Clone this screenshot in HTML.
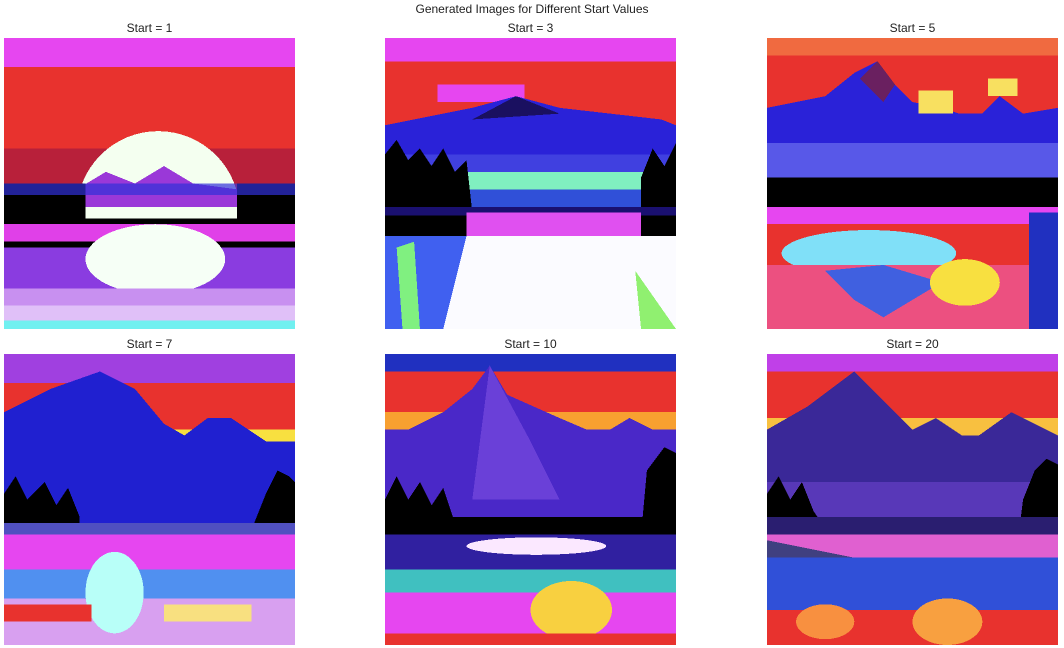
<!DOCTYPE html>
<html>
<head>
<meta charset="utf-8">
<style>
  html,body{margin:0;padding:0;background:#fff;}
  body{width:1064px;height:648px;position:relative;overflow:hidden;font-family:"Liberation Sans","DejaVu Sans",sans-serif;}
  .sup{position:absolute;left:0;width:1064px;top:2px;text-align:center;font-size:12px;color:#222;}
  .title{position:absolute;width:291px;text-align:center;font-size:12px;color:#222;}
  svg.img{position:absolute;width:291px;height:291px;shape-rendering:crispEdges;}
</style>
</head>
<body>
<div class="sup">Generated Images for Different Start Values</div>
<div id="root"></div>
<script>
const startValues = [1, 3, 5, 7, 10, 20];
const panelLefts = [4, 385, 767];
const panelTops = [38, 354];
const bgColors = ['#e8322e', '#e8322e', '#2a22d8', '#2020d0', '#4a28c8', '#3a2898'];

const NS = 'http://www.w3.org/2000/svg';
const scenes = [
`<rect x="0" y="0" width="100" height="10" fill="#e646f0"/>
<rect x="0" y="10" width="100" height="30" fill="#e8322e"/>
<rect x="0" y="38" width="100" height="12" fill="#b8203a"/>
<circle cx="53" cy="60" r="28" fill="#f4fff0"/>
<polygon points="25,52 35,46 45,50 55,44 65,50 80,52 80,58 25,58" fill="#9a38d8"/>
<rect x="0" y="50" width="28" height="22" fill="#000"/>
<rect x="80" y="50" width="20" height="22" fill="#000"/>
<rect x="0" y="50" width="100" height="4" fill="#3030d8" opacity="0.7"/>
<rect x="0" y="62" width="100" height="10" fill="#000"/>
<rect x="0" y="64" width="100" height="6" fill="#e040e8"/>
<rect x="0" y="72" width="100" height="16" fill="#8a3ce0"/>
<ellipse cx="52" cy="76" rx="24" ry="12" fill="#f6fff6"/>
<rect x="0" y="86" width="100" height="6" fill="#c890f0"/>
<rect x="0" y="92" width="100" height="5" fill="#e0c0f8"/>
<rect x="0" y="97" width="100" height="3" fill="#70f0f0"/>`,
`<rect x="0" y="0" width="100" height="12" fill="#e646f0"/>
<rect x="0" y="8" width="100" height="22" fill="#e8322e"/>
<rect x="18" y="16" width="30" height="6" fill="#e646f0"/>
<polygon points="0,30 30,24 45,20 60,24 95,28 100,30 100,48 0,48" fill="#2a22d8"/>
<polygon points="30,28 45,20 60,26" fill="#1a1060"/>
<rect x="0" y="40" width="100" height="8" fill="#4040e0"/>
<rect x="0" y="46" width="100" height="10" fill="#80f0c0"/>
<rect x="0" y="52" width="100" height="8" fill="#3050d8"/>
<polygon points="0,40 4,35 8,42 12,38 16,44 20,38 24,46 28,42 30,60 30,70 0,70" fill="#000"/>
<polygon points="88,48 92,38 96,44 100,36 100,72 88,72" fill="#000"/>
<rect x="0" y="58" width="100" height="3" fill="#1a1070"/>
<rect x="28" y="60" width="60" height="10" fill="#e050f0"/>
<rect x="0" y="68" width="100" height="32" fill="#fbfbff"/>
<polygon points="0,68 28,68 20,100 0,100" fill="#4060f0"/>
<polygon points="4,72 10,70 12,100 6,100" fill="#80f080"/>
<polygon points="86,80 100,100 88,100" fill="#90f070"/>`,
`<rect x="0" y="0" width="100" height="26" fill="#e8322e"/>
<rect x="0" y="0" width="100" height="6" fill="#f06a40"/>
<polygon points="0,24 20,20 30,12 38,8 44,16 50,22 60,24 72,28 80,20 88,26 100,24 100,50 0,50" fill="#2a22d8"/>
<polygon points="38,8 44,16 40,22 32,14" fill="#6a2060"/>
<rect x="52" y="18" width="12" height="8" fill="#f8e060"/>
<rect x="76" y="14" width="10" height="6" fill="#f8e060"/>
<rect x="0" y="36" width="100" height="14" fill="#5858e8"/>
<rect x="0" y="48" width="100" height="12" fill="#000"/>
<rect x="0" y="58" width="100" height="6" fill="#e646f0"/>
<rect x="0" y="64" width="100" height="16" fill="#e8322e"/>
<ellipse cx="35" cy="74" rx="30" ry="8" fill="#80e0f8"/>
<rect x="0" y="78" width="100" height="22" fill="#ec5080"/>
<polygon points="20,80 30,90 40,96 50,90 60,84 40,78" fill="#4060e0"/>
<ellipse cx="68" cy="84" rx="12" ry="8" fill="#f8e040"/>
<rect x="90" y="60" width="10" height="40" fill="#2030c0"/>`,
`<rect x="0" y="0" width="100" height="12" fill="#a040e0"/>
<rect x="0" y="10" width="100" height="20" fill="#e8322e"/>
<rect x="0" y="26" width="100" height="4" fill="#f8e040"/>
<polygon points="0,20 16,12 33,6 45,12 55,24 62,28 70,22 78,22 90,30 100,30 100,60 0,60" fill="#2020d0"/>
<polygon points="0,48 4,42 8,50 14,44 18,52 22,46 26,56 26,72 0,72" fill="#000"/>
<polygon points="86,58 90,48 94,40 98,42 100,44 100,70 84,70" fill="#000"/>
<rect x="0" y="58" width="100" height="4" fill="#5050c0"/>
<rect x="0" y="62" width="100" height="12" fill="#e646f0"/>
<rect x="0" y="74" width="100" height="10" fill="#5090f0"/>
<rect x="0" y="84" width="100" height="16" fill="#d8a0f0"/>
<ellipse cx="38" cy="82" rx="10" ry="14" fill="#b8fff8"/>
<rect x="0" y="86" width="30" height="6" fill="#e8322e"/>
<rect x="55" y="86" width="30" height="6" fill="#f8e080"/>`,
`<rect x="0" y="0" width="100" height="8" fill="#2030c0"/>
<rect x="0" y="6" width="100" height="18" fill="#e8322e"/>
<rect x="0" y="20" width="100" height="6" fill="#f8a030"/>
<polygon points="0,30 20,20 30,12 36,4 42,14 60,22 74,28 84,22 100,30 100,58 0,58" fill="#4a28c8"/>
<polygon points="36,4 50,30 60,50 30,50" fill="#6a40d8"/>
<polygon points="0,50 4,42 8,50 12,44 16,52 20,46 24,58 0,60" fill="#000"/>
<polygon points="90,40 96,32 100,34 100,62 88,62" fill="#000"/>
<rect x="0" y="56" width="100" height="8" fill="#000"/>
<rect x="0" y="62" width="100" height="12" fill="#3020a0"/>
<ellipse cx="52" cy="66" rx="24" ry="3" fill="#fbe8ff"/>
<rect x="0" y="74" width="100" height="8" fill="#40c0c0"/>
<rect x="0" y="82" width="100" height="18" fill="#e646f0"/>
<ellipse cx="64" cy="88" rx="14" ry="10" fill="#f8d040"/>
<rect x="0" y="96" width="100" height="4" fill="#e8322e"/>`,
`<rect x="0" y="0" width="100" height="8" fill="#c040e8"/>
<rect x="0" y="6" width="100" height="22" fill="#e8322e"/>
<rect x="0" y="22" width="100" height="6" fill="#f8c040"/>
<polygon points="0,26 14,18 30,6 40,16 50,26 58,22 70,30 84,20 100,28 100,56 0,56" fill="#3a2898"/>
<rect x="0" y="44" width="100" height="14" fill="#5838b8"/>
<polygon points="0,48 4,42 8,50 12,44 16,54 20,60 0,60" fill="#000"/>
<polygon points="88,50 92,40 96,36 100,38 100,66 86,66" fill="#000"/>
<rect x="0" y="56" width="100" height="6" fill="#2a1e70"/>
<rect x="0" y="62" width="100" height="8" fill="#e060d0"/>
<polygon points="0,64 20,68 30,70 0,72" fill="#404080"/>
<rect x="0" y="70" width="100" height="20" fill="#3050d8"/>
<rect x="0" y="88" width="100" height="12" fill="#e8322e"/>
<ellipse cx="62" cy="92" rx="12" ry="8" fill="#f8a040"/>
<ellipse cx="20" cy="92" rx="10" ry="6" fill="#f89040"/>`
];

const root = document.getElementById('root');
startValues.forEach((v, i) => {
  const col = i % 3, row = Math.floor(i / 3);
  const left = panelLefts[col], top = panelTops[row];
  const t = document.createElement('div');
  t.className = 'title';
  t.style.left = left + 'px';
  t.style.top = (top - 17) + 'px';
  t.textContent = 'Start = ' + v;
  
  
  root.appendChild(t);
  const s = document.createElementNS(NS, 'svg');
  s.setAttribute('class', 'img');
  s.setAttribute('viewBox', '0 0 100 100');
  s.setAttribute('preserveAspectRatio', 'none');
  s.style.left = left + 'px';
  s.style.top = top + 'px';
  s.innerHTML = '<rect x="0" y="0" width="100" height="100" fill="' + bgColors[i] + '"/>' + scenes[i];
  
  
  root.appendChild(s);
});
</script>
</body>
</html>
